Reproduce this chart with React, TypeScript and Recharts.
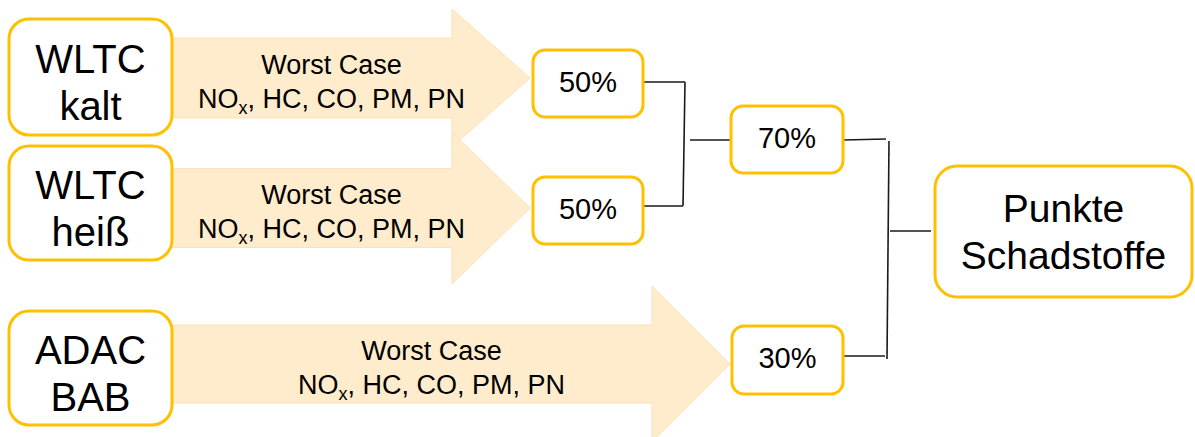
import {
  ComposedChart,
  XAxis,
  YAxis,
  Scatter,
  ReferenceArea,
  ReferenceLine,
} from "recharts";

const W = 1195;
const H = 437;
const FONT = "'Liberation Sans', Arial, sans-serif";
const GOLD = "#FFC000";
const PEACH = "#FEECCC";

// texts and weights
const sourceLabels = [
  ["WLTC", "kalt"],
  ["WLTC", "heiß"],
  ["ADAC", "BAB"],
];
const caseLabel = "Worst Case";
const pollutants = ["HC", "CO", "PM", "PN"]; // shown after NOx
const stageOneWeights = [50, 50];
const stageTwoWeights = [70, 30];
const resultLabel = ["Punkte", "Schadstoffe"];

// layout (pixel units of the 0..W / 0..H axes)
const sourceBoxes = [
  { x: 90.5, y: 77, w: 163, h: 116 },
  { x: 90.5, y: 203, w: 163, h: 114 },
  { x: 90.5, y: 368, w: 163, h: 114 },
];
const stageOneBoxes = [
  { x: 588, y: 83.5, w: 110, h: 67 },
  { x: 588, y: 210.5, w: 110, h: 67 },
];
const stageTwoBoxes = [
  { x: 787, y: 139.5, w: 112, h: 67 },
  { x: 787.5, y: 360, w: 111, h: 68 },
];
const resultBox = { x: 1063.5, y: 231.5, w: 257, h: 131 };

const arrows = [
  { x1: 172, xHead: 452, x2: 530, mid: 78, body: 40, head: 69 },
  { x1: 172, xHead: 452, x2: 530, mid: 208, body: 39.5, head: 76 },
  { x1: 172, xHead: 652, x2: 730, mid: 364, body: 39, head: 78 },
];

const connectors = [
  [[643, 82], [685, 82]],
  [[685, 82], [683, 206]],
  [[643, 206], [683, 206]],
  [[690, 140], [731, 140]],
  [[843, 140], [886, 139]],
  [[889, 141], [887, 359]],
  [[843, 356], [885, 356]],
  [[890, 231], [931, 231]],
];

type Node = {
  x: number;
  y: number;
  w: number;
  h: number;
  r: number;
  size: number;
  lines: string[];
  offsets: number[];
};

const nodes: Node[] = [
  ...sourceLabels.map((lines, i) => ({
    ...sourceBoxes[i],
    r: 20,
    size: 40,
    lines,
    offsets: [-4, 43],
  })),
  ...stageOneWeights.map((v, i) => ({
    ...stageOneBoxes[i],
    r: 12,
    size: 29,
    lines: [`${v}%`],
    offsets: [8],
  })),
  ...stageTwoWeights.map((v, i) => ({
    ...stageTwoBoxes[i],
    r: 12,
    size: 29,
    lines: [`${v}%`],
    offsets: [8],
  })),
  { ...resultBox, r: 22, size: 39, lines: resultLabel, offsets: [-10, 37] },
];

const BoxShape = (props: any) => {
  const { cx, cy, payload } = props;
  const n = payload as Node;
  return (
    <g>
      <rect
        x={cx - n.w / 2}
        y={cy - n.h / 2}
        width={n.w}
        height={n.h}
        rx={n.r}
        ry={n.r}
        fill="#fff"
        stroke={GOLD}
        strokeWidth={3}
      />
      {n.lines.map((t, i) => (
        <text
          key={i}
          x={cx}
          y={cy + n.offsets[i]}
          textAnchor="middle"
          fontFamily={FONT}
          fontSize={n.size}
          fill="#000"
        >
          {t}
        </text>
      ))}
    </g>
  );
};

const arrowShape = (a: (typeof arrows)[number]) => (props: any) => {
  const { x, y, width, height } = props;
  const total = a.x2 - a.x1;
  const headLen = ((a.x2 - a.xHead) / total) * width;
  const cy = y + height / 2;
  const half = height / 2;
  const bodyHalf = (a.body / a.head) * half;
  const xh = x + width - headLen;
  const pts = [
    [x, cy - bodyHalf],
    [xh, cy - bodyHalf],
    [xh, cy - half],
    [x + width, cy],
    [xh, cy + half],
    [xh, cy + bodyHalf],
    [x, cy + bodyHalf],
  ]
    .map((p) => p.join(","))
    .join(" ");
  const tx = (x + xh) / 4 + (x + x + width) / 4;
  return (
    <g>
      <polygon points={pts} fill={PEACH} stroke="#FBE2B8" strokeWidth={1} />
      <text
        x={tx}
        y={cy - 4}
        textAnchor="middle"
        fontFamily={FONT}
        fontSize={27}
        fill="#000"
      >
        {caseLabel}
      </text>
      <text
        x={tx}
        y={cy + 30}
        textAnchor="middle"
        fontFamily={FONT}
        fontSize={27}
        fill="#000"
      >
        NO
        <tspan fontSize={18} dy={6}>
          x
        </tspan>
        <tspan dy={-6}>{", " + pollutants.join(", ")}</tspan>
      </text>
    </g>
  );
};

export default function App() {
  return (
    <div style={{ position: "absolute", left: 0, top: 0, background: "#fff" }}>
      <ComposedChart
        width={W}
        height={H}
        margin={{ top: 0, right: 0, bottom: 0, left: 0 }}
      >
        <XAxis
          type="number"
          dataKey="x"
          domain={[0, W]}
          allowDataOverflow
          hide
        />
        <YAxis
          type="number"
          dataKey="y"
          domain={[0, H]}
          allowDataOverflow
          reversed
          hide
        />
        {arrows.map((a, i) => (
          <ReferenceArea
            key={`arrow-${i}`}
            x1={a.x1}
            x2={a.x2}
            y1={a.mid - a.head}
            y2={a.mid + a.head}
            ifOverflow="visible"
            shape={arrowShape(a)}
          />
        ))}
        {connectors.map((c, i) => (
          <ReferenceLine
            key={`line-${i}`}
            segment={[
              { x: c[0][0], y: c[0][1] },
              { x: c[1][0], y: c[1][1] },
            ]}
            stroke="#1a1a1a"
            strokeWidth={1.6}
            ifOverflow="visible"
          />
        ))}
        <Scatter
          data={nodes}
          dataKey="y"
          isAnimationActive={false}
          shape={(p: any) => <BoxShape {...p} />}
        />
      </ComposedChart>
    </div>
  );
}
